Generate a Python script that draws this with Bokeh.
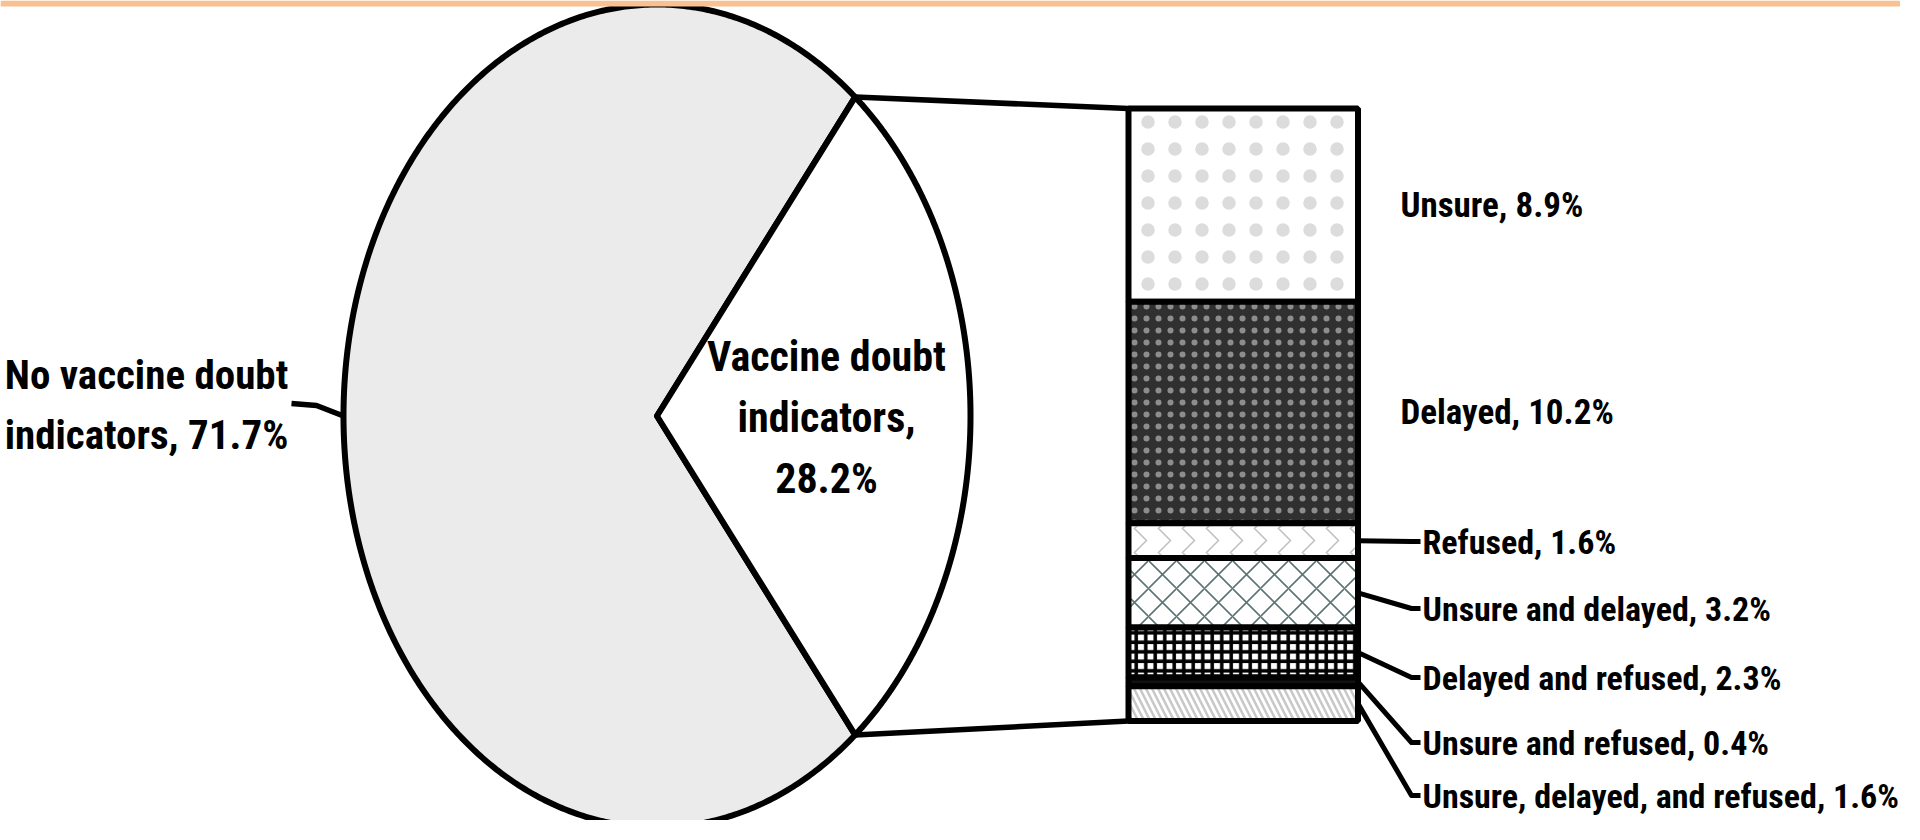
import numpy as np
from bokeh.plotting import figure
from bokeh.models import Range1d
from bokeh.core.properties import value
from bokeh.embed import file_html
from bokeh.resources import INLINE

# ---------------- data ----------------
pie_categories = ["No vaccine doubt indicators", "Vaccine doubt indicators"]
pie_values = [71.7, 28.2]
pie_label_text = ["No vaccine doubt\nindicators, 71.7%", "Vaccine doubt\nindicators,\n28.2%"]

bar_categories = ["Unsure", "Delayed", "Refused", "Unsure and delayed",
                  "Delayed and refused", "Unsure and refused",
                  "Unsure, delayed, and refused"]
bar_values = [8.9, 10.2, 1.6, 3.2, 2.3, 0.4, 1.6]
bar_label_text = [f"{c}, {v}%" for c, v in zip(bar_categories, bar_values)]

# ---------------- layout ----------------
M = 8
W, H = 1900, 820
FONT = value("Roboto Condensed")
CX, CY, RX, RY = 664.5, 423.5, 313.5, 411.5        # pie ellipse
BL, BR, BT, BB = 1136.0, 1365.5, 116.0, 728.5       # stacked bar box
LW = 6

p = figure(width=W, height=H, output_backend="svg", toolbar_location=None,
           x_range=Range1d(M, M + W), y_range=Range1d(M + H, M),
           x_axis_location=None, y_axis_location=None, min_border=0,
           outline_line_color=None, background_fill_color="white",
           border_fill_color="white")
p.grid.visible = False


def ell(t):
    return CX + RX * np.cos(t), CY - RY * np.sin(t)


# ---------------- pie ----------------
total = sum(pie_values)
half = np.pi * pie_values[1] / total
slices = [(half, 2 * np.pi - half), (-half, half)]
pie_fill = ["#ebebeb", "#ffffff"]
for (a0, a1), col in zip(slices, pie_fill):
    t = np.linspace(a0, a1, 500)
    ex, ey = ell(t)
    xs = np.concatenate([[CX], ex, [CX]])
    ys = np.concatenate([[CY], ey, [CY]])
    p.patch(xs, ys, fill_color=col, line_color="black", line_width=LW,
            line_join="round")

# connectors from pie to bar
ux, uy = ell(half)
lx, ly = ell(-half)
p.line([ux, BL], [uy, BT], line_color="black", line_width=5.5)
p.line([lx, BL], [ly, BB], line_color="black", line_width=5.5)

# ---------------- stacked bar ----------------
vals = np.array(bar_values)
edges = BT + (BB - BT) * np.concatenate([[0], np.cumsum(vals)]) / vals.sum()
tops, bottoms = edges[:-1], edges[1:]
centers = (tops + bottoms) / 2

styles = [
    dict(fill_color="white", hatch_pattern="dot", hatch_color="#dcdcdc", hatch_scale=27),
    dict(fill_color="#303030", hatch_pattern="dot", hatch_color="white", hatch_scale=12, hatch_alpha=0.45),
    dict(fill_color="white", hatch_pattern="vertical_wave", hatch_color="#c0c0c0", hatch_scale=24, hatch_weight=1.5),
    dict(fill_color="white", hatch_pattern="diagonal_cross", hatch_color="#5b7575", hatch_scale=28, hatch_weight=1.6),
    dict(fill_color="white", hatch_pattern="cross", hatch_color="black", hatch_scale=9.5, hatch_weight=3.5),
    dict(fill_color="#111111"),
    dict(fill_color="white", hatch_pattern="left_diagonal_line", hatch_color="#c8c8c8", hatch_scale=12, hatch_weight=2.5),
]
for i, st in enumerate(styles):
    p.quad(left=BL, right=BR, top=tops[i], bottom=bottoms[i],
           line_color="black", line_width=LW, **st)

# ---------------- labels ----------------
for i in range(2):
    p.text(x=[1408], y=[centers[i]], text=[bar_label_text[i]],
           text_font=FONT, text_font_style="bold", text_font_size="35px",
           text_align="left", text_baseline="middle", text_color="black")

label_y = [549, 616, 685, 750, 803]
for j, i in enumerate(range(2, len(bar_values))):
    yl = label_y[j]
    p.line([BR, 1419, 1428], [centers[i], yl, yl], line_color="black",
           line_width=5, line_join="round")
    p.text(x=[1430], y=[yl], text=[bar_label_text[i]],
           text_font=FONT, text_font_style="bold", text_font_size="34px",
           text_align="left", text_baseline="middle", text_color="black")

# pie labels
ex0, ey0 = ell(np.pi)
p.line([299, 324, ex0], [411, 413, ey0], line_color="black", line_width=5.5,
       line_join="round")
p.text(x=[154], y=[412], text=[pie_label_text[0]], text_font=FONT,
       text_font_style="bold", text_font_size="41px", text_align="center",
       text_baseline="middle", text_line_height=1.25, text_color="black")
p.text(x=[834], y=[425], text=[pie_label_text[1]], text_font=FONT,
       text_font_style="bold", text_font_size="42px", text_align="center",
       text_baseline="middle", text_line_height=1.24, text_color="black")

# top decorative band
p.quad(left=M, right=M + W, top=M, bottom=M + 6, fill_color="#FAC090",
       line_color=None)

open("out.html", "w").write(file_html(p, INLINE))
